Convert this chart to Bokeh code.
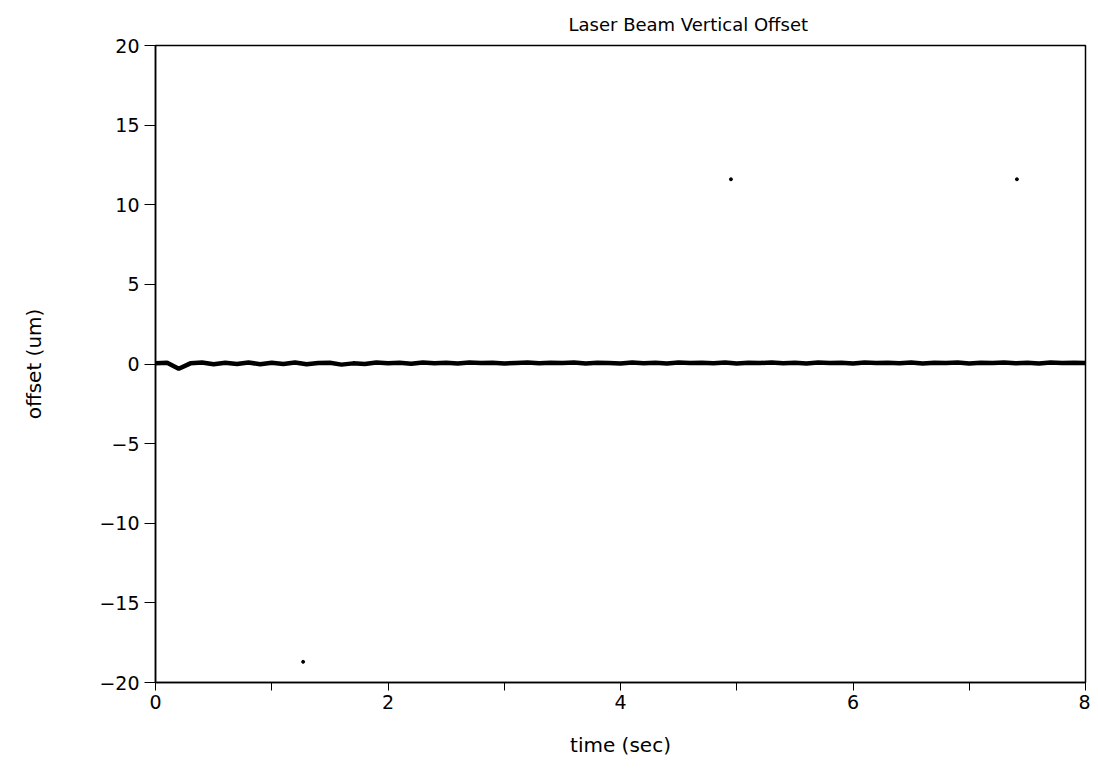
import numpy as np
from bokeh.plotting import figure
from bokeh.models import FixedTicker, Range1d
from bokeh.embed import file_html
from bokeh.resources import INLINE

# ---- data ----
time_sec = [round(0.1 * i, 1) for i in range(81)]
offset_um = [
    0.05, 0.08, -0.30, 0.04, 0.10, -0.02, 0.08, 0.00, 0.10, -0.02,
    0.08, 0.00, 0.10, -0.02, 0.06, 0.08, -0.04, 0.04, 0.00, 0.10,
    0.05, 0.08, 0.02, 0.10, 0.05, 0.08, 0.03, 0.10, 0.06, 0.08,
    0.03, 0.07, 0.10, 0.04, 0.08, 0.06, 0.10, 0.03, 0.08, 0.07,
    0.03, 0.10, 0.05, 0.08, 0.03, 0.10, 0.06, 0.08, 0.04, 0.10,
    0.03, 0.08, 0.06, 0.10, 0.04, 0.08, 0.03, 0.10, 0.07, 0.08,
    0.03, 0.10, 0.06, 0.08, 0.04, 0.10, 0.03, 0.08, 0.07, 0.10,
    0.03, 0.08, 0.06, 0.10, 0.04, 0.08, 0.03, 0.10, 0.06, 0.08,
    0.07,
]
speck_t = [1.27, 4.95, 7.41]
speck_y = [-18.7, 11.6, 11.6]

x_ticks = [0, 2, 4, 6, 8]
x_minor = [1, 3, 5, 7]
y_ticks = [-20, -15, -10, -5, 0, 5, 10, 15, 20]

FONT = "DejaVu Sans"

p = figure(width=1090, height=763, output_backend="svg", toolbar_location=None,
           x_range=Range1d(0, 8), y_range=Range1d(-20, 20),
           min_border_left=155, min_border_top=45, min_border_right=5,
           min_border_bottom=81, title="Laser Beam Vertical Offset")

p.title.align = "left"
p.title.offset = 413
p.title.standoff = 22
p.title.text_font = FONT
p.title.text_font_size = "18px"
p.title.text_font_style = "normal"
p.title.text_color = "black"

p.grid.visible = False
p.outline_line_color = "black"
p.outline_line_width = 1.5
p.background_fill_color = "white"
p.border_fill_color = "white"

p.xaxis.ticker = FixedTicker(ticks=x_ticks, minor_ticks=x_minor)
p.yaxis.ticker = FixedTicker(ticks=y_ticks)
p.yaxis.major_label_overrides = {v: ("\u2212" + str(-v) if v < 0 else str(v)) for v in y_ticks}

for ax in (p.xaxis[0], p.yaxis[0]):
    ax.axis_line_color = "black"
    ax.axis_line_width = 1.5
    ax.major_tick_line_color = "black"
    ax.minor_tick_line_color = "black"
    ax.major_tick_in = 0
    ax.minor_tick_in = 0
    ax.major_label_text_font = FONT
    ax.major_label_text_font_size = "19px"
    ax.major_label_text_color = "black"
    ax.axis_label_text_font = FONT
    ax.axis_label_text_font_size = "20px"
    ax.axis_label_text_font_style = "normal"
    ax.axis_label_text_color = "black"

p.xaxis.major_tick_out = 8
p.xaxis.minor_tick_out = 8
p.xaxis.major_label_standoff = 4
p.xaxis.axis_label = "time (sec)"
p.xaxis.axis_label_standoff = 21
p.yaxis.major_tick_out = 11
p.yaxis.minor_tick_out = 0
p.yaxis.major_label_standoff = 5
p.yaxis.axis_label = "offset (um)"
p.yaxis.axis_label_standoff = 50

p.line(time_sec, offset_um, line_color="black", line_width=4.5)
p.scatter(speck_t, speck_y, size=3, color="black")

open("out.html", "w").write(file_html(p, INLINE))
